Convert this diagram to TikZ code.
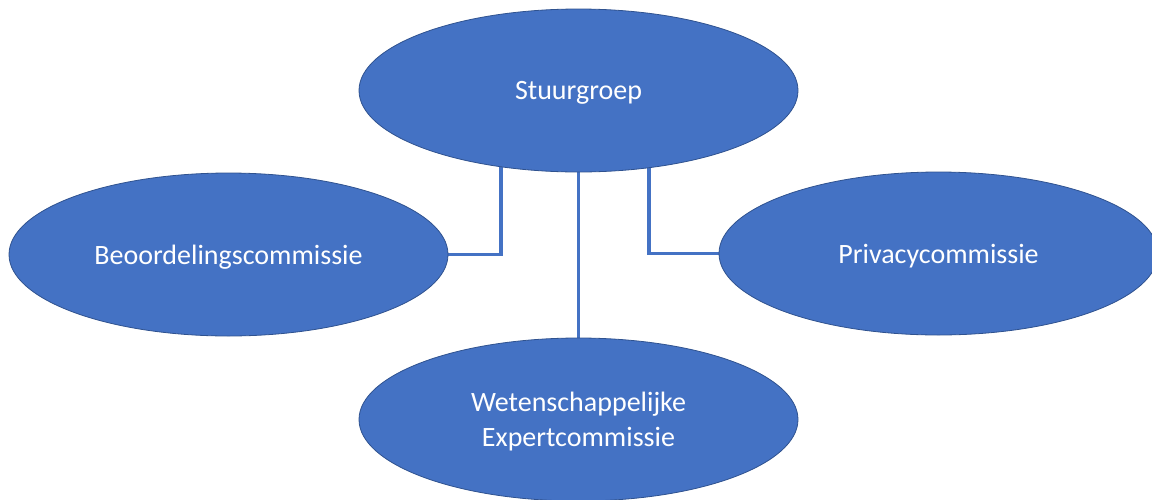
\documentclass[tikz,border=0pt]{standalone}
\usepackage{fontspec}
\setmainfont{Carlito}
\usetikzlibrary{shapes,shapes.geometric,calc,positioning,backgrounds}
\definecolor{officeblue}{HTML}{4472C4}
\definecolor{officeedge}{HTML}{2F528F}

\begin{document}
\begin{tikzpicture}
[x=1pt,y=1pt,every node/.style={shape=ellipse,draw=officeedge,line width=0.8pt,
	fill=officeblue,text=white,inner sep=0pt,minimum width=439pt,minimum height=163pt,
	align=center,text depth=0pt,font=\fontsize{28}{35}\selectfont},
	conn/.style={draw=officeblue,line width=3.5pt}]
\useasboundingbox (0,0) rectangle (1152,-499);
\clip (0,0) rectangle (1152,-499);
\node (stuur) at (578.5,-90.5) {Stuurgroep};
\node (beoord) at (228.5,-254.5) {Beoordelingscommissie};
\node (privacy) at (938.5,-253.5) {Privacycommissie};
\node (expert) at (578.5,-419.5) {Wetenschappelijke\\Expertcommissie};
\begin{scope}[on background layer]
\draw[conn] ([xshift=-77.5pt]stuur.center) |- (beoord.east);
\draw[conn] ([xshift=70.5pt]stuur.center) |- (privacy.west);
\draw[conn] (stuur) -- (expert);
\end{scope}
\end{tikzpicture}
\end{document}
